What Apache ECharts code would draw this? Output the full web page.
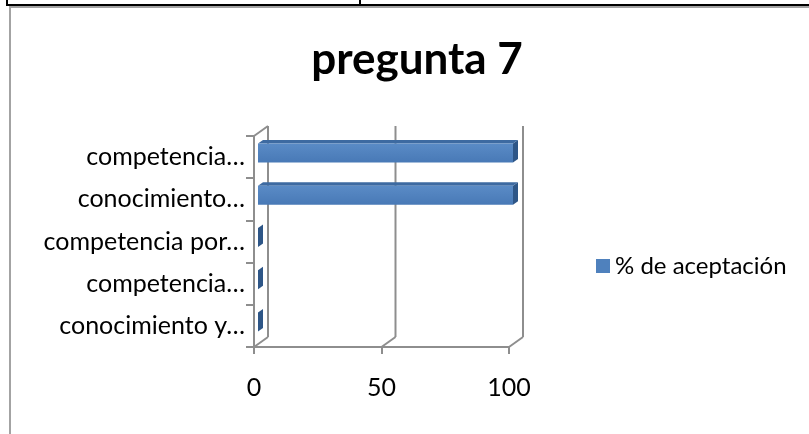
<!DOCTYPE html>
<html>
<head>
<meta charset="utf-8">
<script src="https://cdn.jsdelivr.net/npm/echarts@6/dist/echarts.min.js"></script>
<style>
  html, body { margin: 0; padding: 0; background: #fff; }
  #chart { width: 809px; height: 434px; }
</style>
</head>
<body>
<div id="chart"></div>
<script>
// Categories run bottom-to-top on the category axis
const categories = ['conocimiento y…', 'competencia…', 'competencia por…', 'conocimiento…', 'competencia…'];
const acceptance = [0, 0, 0, 100, 100];
const xTicks = [0, 50, 100];
const seriesName = '% de aceptación';
const titleText = 'pregunta 7';

// 3-D box depth (pixels) and bar slab geometry
const DEPTH_X = 14, DEPTH_Y = -10;
const BAR_OFF_X = 4, BAR_OFF_Y = -4;
const BAR_D_X = 5, BAR_D_Y = -3.5;
const BAR_H = 19;
const GRID_COLOR = '#8e8e8e';
const FONT = 'Lato';

const chart = echarts.init(document.getElementById('chart'), null, { renderer: 'canvas' });

function renderWalls(params, api) {
  const cs = params.coordSys;
  const v = api.value(0);
  const x = api.coord([v, 0])[0];
  const yb = cs.y + cs.height;
  const yt = cs.y;
  const lineStyle = { stroke: GRID_COLOR, lineWidth: 2 };
  const children = [
    { type: 'line', shape: { x1: x, y1: yb, x2: x + DEPTH_X, y2: yb + DEPTH_Y }, style: lineStyle },
    { type: 'line', shape: { x1: x + DEPTH_X, y1: yb + DEPTH_Y, x2: x + DEPTH_X, y2: yt + DEPTH_Y }, style: lineStyle }
  ];
  if (v === 0) {
    children.push({ type: 'line', shape: { x1: x, y1: yt, x2: x + DEPTH_X, y2: yt + DEPTH_Y }, style: lineStyle });
  }
  return { type: 'group', children: children };
}

function renderBar(params, api) {
  const v = api.value(0);
  const idx = api.value(1);
  const p0 = api.coord([0, idx]);
  const p1 = api.coord([v, idx]);
  const x0 = p0[0] + BAR_OFF_X;
  const x1 = p1[0] + BAR_OFF_X;
  const yT = p0[1] + BAR_OFF_Y - BAR_H / 2;
  const yB = yT + BAR_H;
  const front = {
    type: 'rect',
    shape: { x: x0, y: yT, width: x1 - x0, height: BAR_H },
    style: {
      fill: new echarts.graphic.LinearGradient(0, 0, 0, 1, [
        { offset: 0, color: '#5a8bc6' },
        { offset: 1, color: '#4879b6' }
      ])
    }
  };
  const top = {
    type: 'polygon',
    shape: { points: [[x0, yT], [x1, yT], [x1 + BAR_D_X, yT + BAR_D_Y], [x0 + BAR_D_X, yT + BAR_D_Y]] },
    style: { fill: '#3d6aa1' }
  };
  const side = {
    type: 'polygon',
    shape: { points: [[x1, yT], [x1 + BAR_D_X, yT + BAR_D_Y], [x1 + BAR_D_X, yB + BAR_D_Y], [x1, yB]] },
    style: { fill: '#2e5687' }
  };
  return { type: 'group', children: [side, top, front] };
}

const option = {
  backgroundColor: '#fff',
  animation: false,
  title: {
    text: titleText,
    left: 412,
    textAlign: 'center',
    top: 33,
    textStyle: { fontFamily: FONT, fontWeight: 'bold', fontSize: 44, color: '#000' }
  },
  legend: {
    data: [seriesName],
    icon: 'rect',
    left: 591,
    top: 249,
    itemWidth: 14,
    itemHeight: 14,
    textStyle: { fontFamily: FONT, fontSize: 24, color: '#000' }
  },
  grid: { left: 254, top: 136, width: 255, height: 211, containLabel: false },
  xAxis: {
    type: 'value',
    min: 0,
    max: 100,
    interval: 50,
    axisLine: { show: true, lineStyle: { color: GRID_COLOR, width: 2 } },
    axisTick: { show: true, length: 7, lineStyle: { color: GRID_COLOR, width: 2 } },
    splitLine: { show: false },
    axisLabel: { margin: 28, fontFamily: FONT, fontSize: 25, color: '#000' }
  },
  yAxis: {
    type: 'category',
    data: categories,
    axisLine: { show: true, lineStyle: { color: GRID_COLOR, width: 2 } },
    axisTick: { show: true, length: 8, lineStyle: { color: GRID_COLOR, width: 2 } },
    splitLine: { show: false },
    axisLabel: { margin: 9, fontFamily: FONT, fontSize: 25, color: '#000' }
  },
  series: [
    {
      type: 'custom',
      name: 'walls',
      silent: true,
      renderItem: renderWalls,
      encode: { x: 0, y: 1 },
      data: xTicks.map(function (v) { return [v, 0]; }),
      z: 1
    },
    {
      type: 'custom',
      name: seriesName,
      itemStyle: { color: '#4f81bd' },
      renderItem: renderBar,
      encode: { x: 0, y: 1 },
      data: acceptance.map(function (v, i) { return [v, i]; }),
      z: 2
    }
  ],
  graphic: [
    { type: 'rect', shape: { x: 6, y: 4, width: 803, height: 2 }, style: { fill: '#000' } },
    { type: 'rect', shape: { x: 6, y: 0, width: 2, height: 6 }, style: { fill: '#000' } },
    { type: 'rect', shape: { x: 359, y: 0, width: 2, height: 5 }, style: { fill: '#000' } },
    { type: 'rect', shape: { x: 9, y: 6, width: 800, height: 2 }, style: { fill: '#a3a3a3' } },
    { type: 'rect', shape: { x: 9, y: 6, width: 2, height: 428 }, style: { fill: '#a3a3a3' } }
  ]
};

chart.setOption(option);
</script>
</body>
</html>
